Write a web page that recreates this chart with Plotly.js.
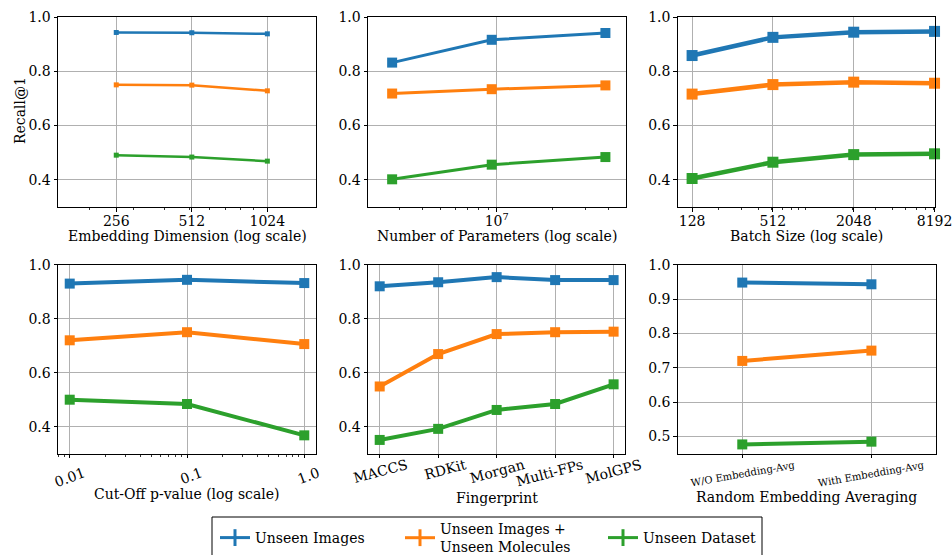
<!DOCTYPE html>
<html>
<head>
<meta charset="utf-8">
<script src="https://cdn.plot.ly/plotly-3.0.1.min.js"></script>
<style>html,body{margin:0;padding:0;background:#fff;overflow:hidden;}#chart{width:952px;height:580px;}</style>
</head>
<body>
<div id="chart"></div>
<script>
// ---- data ----
const seriesNames = ['Unseen Images', 'Unseen Images +<br>Unseen Molecules', 'Unseen Dataset'];
const colors = ['#1f77b4', '#ff7f0e', '#2ca02c'];

const embDim = [256, 512, 1024];
const embDimLabels = ['256', '512', '1024'];
const embImages = [0.943, 0.942, 0.938];
const embMolecules = [0.750, 0.749, 0.728];
const embDataset = [0.491, 0.484, 0.469];

const nParams = [2.74e6, 9.4e6, 3.84e7];
const paramImages = [0.832, 0.916, 0.941];
const paramMolecules = [0.718, 0.734, 0.748];
const paramDataset = [0.402, 0.456, 0.484];

const batchSize = [128, 512, 2048, 8192];
const batchLabels = ['128', '512', '2048', '8192'];
const batchImages = [0.858, 0.925, 0.944, 0.947];
const batchMolecules = [0.716, 0.751, 0.760, 0.756];
const batchDataset = [0.405, 0.465, 0.493, 0.496];

const pValue = [0.01, 0.1, 1.0];
const pLabels = ['0.01', '0.1', '1.0'];
const pImages = [0.930, 0.944, 0.932];
const pMolecules = [0.720, 0.750, 0.706];
const pDataset = [0.500, 0.484, 0.368];

const fingerprints = ['MACCS', 'RDKit', 'Morgan', 'Multi-FPs', 'MolGPS'];
const fpImages = [0.920, 0.935, 0.954, 0.943, 0.943];
const fpMolecules = [0.549, 0.669, 0.743, 0.750, 0.752];
const fpDataset = [0.351, 0.392, 0.462, 0.484, 0.557];

const avgOptions = ['W/O Embedding-Avg', 'With Embedding-Avg'];
const avgImages = [0.948, 0.943];
const avgMolecules = [0.720, 0.750];
const avgDataset = [0.477, 0.485];

const yTicks5 = [0.4, 0.6, 0.8, 1.0];
const yTicks6 = [0.5, 0.6, 0.7, 0.8, 0.9, 1.0];

const yTitle = 'Recall@1';
const xTitles = ['Embedding Dimension (log scale)', 'Number of Parameters (log scale)', 'Batch Size (log scale)',
                 'Cut-Off p-value (log scale)', 'Fingerprint', 'Random Embedding Averaging'];

// ---- styling ----
const FONT = 'DejaVu Serif';
const FS = 14;
const panels = [
  {x: embDim, ys: [embImages, embMolecules, embDataset], lw: 2.5, ms: 5},
  {x: nParams, ys: [paramImages, paramMolecules, paramDataset], lw: 3, ms: 10},
  {x: batchSize, ys: [batchImages, batchMolecules, batchDataset], lw: 4.5, ms: 11},
  {x: pValue, ys: [pImages, pMolecules, pDataset], lw: 4, ms: 10},
  {x: fingerprints, ys: [fpImages, fpMolecules, fpDataset], lw: 4, ms: 10},
  {x: avgOptions, ys: [avgImages, avgMolecules, avgDataset], lw: 4, ms: 10}
];

const traces = [];
panels.forEach((p, i) => {
  const ax = i === 0 ? '' : String(i + 1);
  p.ys.forEach((y, k) => {
    traces.push({
      x: p.x, y: y, xaxis: 'x' + ax, yaxis: 'y' + ax,
      mode: 'lines+markers', type: 'scatter', showlegend: false,
      line: {color: colors[k], width: p.lw},
      marker: {color: colors[k], size: p.ms, symbol: 'square'},
      cliponaxis: false, hoverinfo: 'skip'
    });
  });
});
const legendIds = ['legend', 'legend2', 'legend3'];
seriesNames.forEach((n, k) => {
  traces.push({
    x: [null], y: [null], name: n, legend: legendIds[k], mode: 'lines+markers', type: 'scatter',
    line: {color: colors[k], width: 3},
    marker: {color: colors[k], size: 12, symbol: 'line-ns-open', line: {color: colors[k], width: 3}}
  });
});

const W = 952, H = 580;
const xd = (a, b) => [a / W, b / W];
const yd = (top, bot) => [1 - bot / H, 1 - top / H];

function baseAxis(extra) {
  return Object.assign({
    showline: true, mirror: true, linecolor: '#000', linewidth: 1,
    ticks: 'outside', ticklen: 3.5, tickwidth: 1, tickcolor: '#000',
    showgrid: true, gridcolor: '#b0b0b0', gridwidth: 1, zeroline: false,
    tickfont: {family: FONT, size: FS, color: '#000'},
    ticklabeloverflow: 'allow', automargin: false
  }, extra);
}

const minor1 = [200, 300, 400, 500, 600, 700, 800, 900];
const minor2 = [3e6, 4e6, 5e6, 6e6, 7e6, 8e6, 9e6, 2e7, 3e7, 4e7];
const minor3 = [200, 300, 400, 500, 600, 700, 800, 900, 2000, 3000, 4000, 5000, 6000, 7000, 8000];
const minor4 = [0.008, 0.009, 0.02, 0.03, 0.04, 0.05, 0.06, 0.07, 0.08, 0.09, 0.2, 0.3, 0.4, 0.5, 0.6, 0.7, 0.8, 0.9];
function minor(vals) { return {tickmode: 'array', tickvals: vals, ticks: 'outside', ticklen: 2, tickcolor: '#000', tickwidth: 0.8, showgrid: false}; }

const yCommon = (dom, anchor, ticks, range) => baseAxis({domain: dom, anchor: anchor, range: range, tickmode: 'array', tickvals: ticks, tickformat: '.1f'});

const topY = yd(17, 207), botY = yd(264.7, 453.7);
const colX = [[58, 316], [368, 626], [677.7, 935.3], [58, 316], [368, 625.3], [677.7, 936]];
const titleY = [236, 236, 236, 494, 498, 497];

const annotations = xTitles.map((t, i) => ({
  text: t, xref: 'paper', yref: 'paper', showarrow: false,
  x: (colX[i][0] + colX[i][1]) / 2 / W, y: 1 - titleY[i] / H, xanchor: 'center', yanchor: 'middle',
  font: {family: FONT, size: FS, color: '#000'}
}));
annotations.push({
  text: yTitle, xref: 'paper', yref: 'paper', showarrow: false, textangle: -90,
  x: 20 / W, y: 1 - 111 / H, xanchor: 'center', yanchor: 'middle',
  font: {family: FONT, size: FS, color: '#000'}
});

const legendX = [215, 400, 603];
const legendBase = x => ({
  orientation: 'h', x: x / W, xanchor: 'left', y: 1 - 538 / H, yanchor: 'middle',
  borderwidth: 0, bgcolor: 'rgba(0,0,0,0)', font: {family: FONT, size: FS, color: '#000'}
});

const layout = {
  width: W, height: H,
  margin: {l: 0, r: 0, t: 0, b: 0},
  paper_bgcolor: '#fff', plot_bgcolor: '#fff',
  font: {family: FONT, size: FS, color: '#000'},
  showlegend: true,
  legend: legendBase(legendX[0]),
  legend2: legendBase(legendX[1]),
  legend3: legendBase(legendX[2]),
  shapes: [{type: 'rect', xref: 'paper', yref: 'paper', x0: 212 / W, x1: 762 / W, y0: 1 - 517 / H, y1: 1 - 566 / H,
            line: {color: '#000', width: 1}, fillcolor: 'rgba(0,0,0,0)', layer: 'below'}],
  annotations: annotations,
  xaxis: baseAxis({domain: xd(...colX[0]), anchor: 'y', type: 'log', range: [Math.log10(150), Math.log10(1600)],
    tickmode: 'array', tickvals: embDim, ticktext: embDimLabels, minor: minor(minor1), ticklabelstandoff: -2}),
  yaxis: yCommon(topY, 'x', yTicks5, [0.3, 1.0]),
  xaxis2: baseAxis({domain: xd(...colX[1]), anchor: 'y2', type: 'log', range: [6.308, 7.695],
    tickmode: 'array', tickvals: [1e7], ticktext: ['10<sup>7</sup>'], minor: minor(minor2), ticklabelstandoff: -2}),
  yaxis2: yCommon(topY, 'x2', yTicks5, [0.3, 1.0]),
  xaxis3: baseAxis({domain: xd(...colX[2]), anchor: 'y3', type: 'log', range: [2, Math.log10(8300)],
    tickmode: 'array', tickvals: batchSize, ticktext: batchLabels, minor: minor(minor3), ticklabelstandoff: -2}),
  yaxis3: yCommon(topY, 'x3', yTicks5, [0.3, 1.0]),
  xaxis4: baseAxis({domain: xd(...colX[3]), anchor: 'y4', type: 'log', range: [-2.1, 0.1],
    tickmode: 'array', tickvals: pValue, ticktext: pLabels, tickangle: -20, minor: minor(minor4),
    ticklabelshift: 14, ticklabelstandoff: 2}),
  yaxis4: yCommon(botY, 'x4', yTicks5, [0.3, 1.0]),
  xaxis5: baseAxis({domain: xd(...colX[4]), anchor: 'y5', type: 'category', range: [-0.2, 4.2],
    tickangle: -15, ticklabelshift: 27, ticklabelstandoff: -6}),
  yaxis5: yCommon(botY, 'x5', yTicks5, [0.3, 1.0]),
  xaxis6: baseAxis({domain: xd(...colX[5]), anchor: 'y6', type: 'category', range: [-0.5, 1.5],
    tickangle: -10, tickfont: {family: FONT, size: 10, color: '#000'}, ticklabelshift: 52, ticklabelstandoff: -2}),
  yaxis6: yCommon(botY, 'x6', yTicks6, [0.45, 1.0])
};

Plotly.newPlot('chart', traces, layout, {displayModeBar: false, staticPlot: true});
</script>
</body>
</html>
